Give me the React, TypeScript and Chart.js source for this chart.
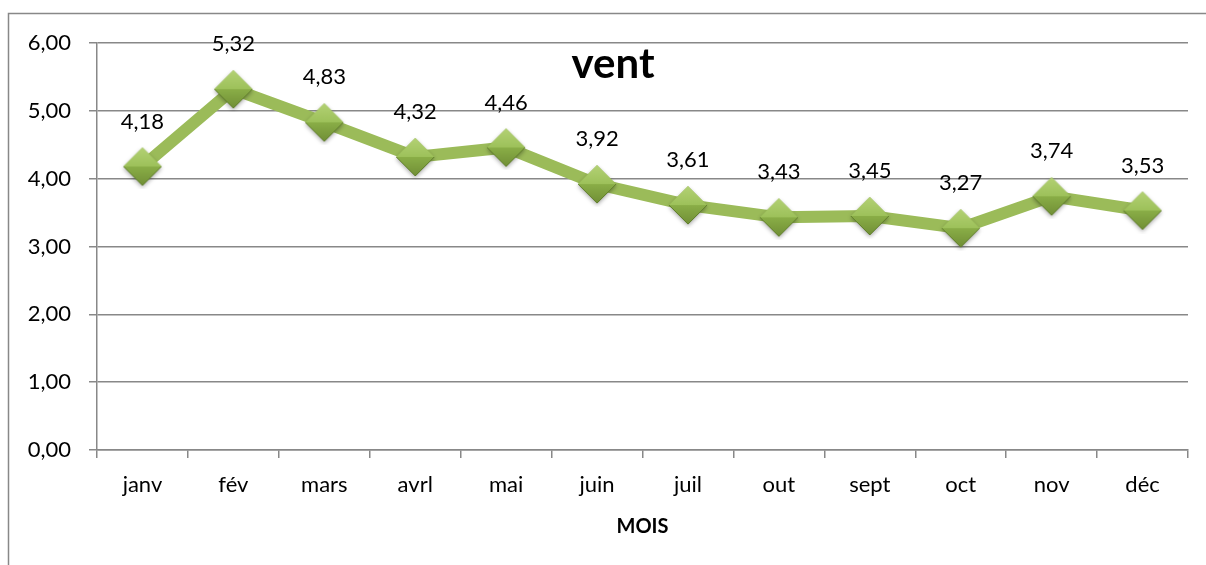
import React, { useEffect, useRef } from "react";
import { Chart, registerables } from "chart.js";

Chart.register(...registerables);

const categories = ["janv", "fév", "mars", "avrl", "mai", "juin", "juil", "out", "sept", "oct", "nov", "déc"];
const ventValues = [4.18, 5.32, 4.83, 4.32, 4.46, 3.92, 3.61, 3.43, 3.45, 3.27, 3.74, 3.53];
const yTickValues = [0, 1, 2, 3, 4, 5, 6];
const chartTitle = "vent";
const xAxisTitle = "MOIS";

const FONT = "Lato, 'Open Sans', sans-serif";
const fmt = (v: number) => v.toFixed(2).replace(".", ",");

function makeMarker(): HTMLCanvasElement {
  const r = 19;
  const c = document.createElement("canvas");
  const size = 2 * r + 8;
  c.width = size;
  c.height = size;
  const ctx = c.getContext("2d")!;
  const cx = size / 2;
  const cy = size / 2;
  ctx.save();
  ctx.shadowColor = "rgba(0,0,0,0.35)";
  ctx.shadowBlur = 4;
  ctx.shadowOffsetY = 2;
  ctx.beginPath();
  ctx.moveTo(cx - r, cy);
  ctx.lineTo(cx, cy - r);
  ctx.lineTo(cx + r, cy);
  ctx.lineTo(cx, cy + r);
  ctx.closePath();
  ctx.fillStyle = "#8DAF4A";
  ctx.fill();
  ctx.restore();
  const g1 = ctx.createLinearGradient(cx, cy - r, cx, cy);
  g1.addColorStop(0, "#B3D174");
  g1.addColorStop(1, "#9DC15A");
  ctx.beginPath();
  ctx.moveTo(cx - r, cy);
  ctx.lineTo(cx, cy - r);
  ctx.lineTo(cx + r, cy);
  ctx.closePath();
  ctx.fillStyle = g1;
  ctx.fill();
  const g2 = ctx.createLinearGradient(cx, cy, cx, cy + r);
  g2.addColorStop(0, "#8AAE47");
  g2.addColorStop(1, "#718F36");
  ctx.beginPath();
  ctx.moveTo(cx - r, cy);
  ctx.lineTo(cx + r, cy);
  ctx.lineTo(cx, cy + r);
  ctx.closePath();
  ctx.fillStyle = g2;
  ctx.fill();
  ctx.beginPath();
  ctx.moveTo(cx + r, cy);
  ctx.lineTo(cx, cy + r);
  ctx.lineTo(cx - r, cy);
  ctx.strokeStyle = "#5F7D2B";
  ctx.lineWidth = 1;
  ctx.stroke();
  return c;
}

const framePlugin = {
  id: "frame",
  beforeDraw(chart: any) {
    const ctx = chart.ctx;
    ctx.save();
    ctx.fillStyle = "#ffffff";
    ctx.fillRect(0, 0, chart.width, chart.height);
    ctx.strokeStyle = "#888888";
    ctx.lineWidth = 1.5;
    ctx.beginPath();
    ctx.moveTo(8.5, chart.height + 5);
    ctx.lineTo(8.5, 13.5);
    ctx.lineTo(chart.width + 5, 13.5);
    ctx.stroke();
    ctx.restore();
  },
};

const labelsPlugin = {
  id: "pointLabels",
  afterDatasetsDraw(chart: any) {
    const ctx = chart.ctx;
    const meta = chart.getDatasetMeta(0);
    const data = chart.data.datasets[0].data as number[];
    ctx.save();
    ctx.fillStyle = "#000000";
    ctx.font = `22px ${FONT}`;
    ctx.textAlign = "center";
    ctx.textBaseline = "middle";
    meta.data.forEach((pt: any, i: number) => {
      ctx.fillText(fmt(data[i]), pt.x, pt.y - 45);
    });
    const area = chart.chartArea;
    ctx.font = `bold 42px ${FONT}`;
    ctx.fillText(chartTitle, area.left + (area.right - area.left) * 0.473, area.top + 21);
    ctx.restore();
  },
};

export default function App() {
  const canvasRef = useRef<HTMLCanvasElement | null>(null);

  useEffect(() => {
    const marker = makeMarker();
    const chart = new Chart(canvasRef.current!, {
      type: "line",
      data: {
        labels: categories,
        datasets: [
          {
            label: chartTitle,
            data: ventValues,
            borderColor: "#9BBB59",
            borderWidth: 12,
            pointStyle: marker as any,
            pointRadius: 19,
            tension: 0,
          },
        ],
      },
      options: {
        animation: false,
        responsive: false,
        layout: { autoPadding: false, padding: { left: 0, top: 43, right: 18, bottom: 0 } },
        plugins: {
          legend: { display: false },
          tooltip: { enabled: false },
          title: { display: false },
        },
        scales: {
          x: {
            offset: true,
            grid: {
              offset: true,
              display: true,
              drawOnChartArea: false,
              drawTicks: true,
              tickLength: 8,
              color: "#888888",
              lineWidth: 1.5,
            },
            border: { color: "#888888", width: 1.5 },
            ticks: { color: "#000000", font: { family: FONT, size: 22 }, padding: 14, maxRotation: 0 },
            title: {
              display: true,
              text: xAxisTitle,
              color: "#000000",
              font: { family: FONT, size: 20, weight: "bold" },
              padding: { top: 0, bottom: 26 },
            },
            afterFit(scale: any) {
              scale.height = 115;
              scale.paddingLeft = 0;
              scale.paddingRight = 0;
            },
          },
          y: {
            min: 0,
            max: 6,
            afterBuildTicks(scale: any) {
              scale.ticks = yTickValues.map((v) => ({ value: v }));
            },
            grid: { color: "#888888", lineWidth: 1.5, tickLength: 8 },
            border: { color: "#888888", width: 1.5 },
            ticks: {
              color: "#000000",
              font: { family: FONT, size: 22 },
              padding: 18,
              callback: (v: any) => fmt(Number(v)),
            },
            afterFit(scale: any) {
              scale.width = 97;
              scale.paddingTop = 0;
              scale.paddingBottom = 0;
            },
          },
        },
      },
      plugins: [framePlugin, labelsPlugin],
    });
    return () => chart.destroy();
  }, []);

  return (
    <div style={{ position: "fixed", left: 0, top: 0, width: 1206, height: 565, background: "#fff" }}>
      <canvas ref={canvasRef} width={1206} height={565} style={{ display: "block", width: 1206, height: 565 }} />
    </div>
  );
}
